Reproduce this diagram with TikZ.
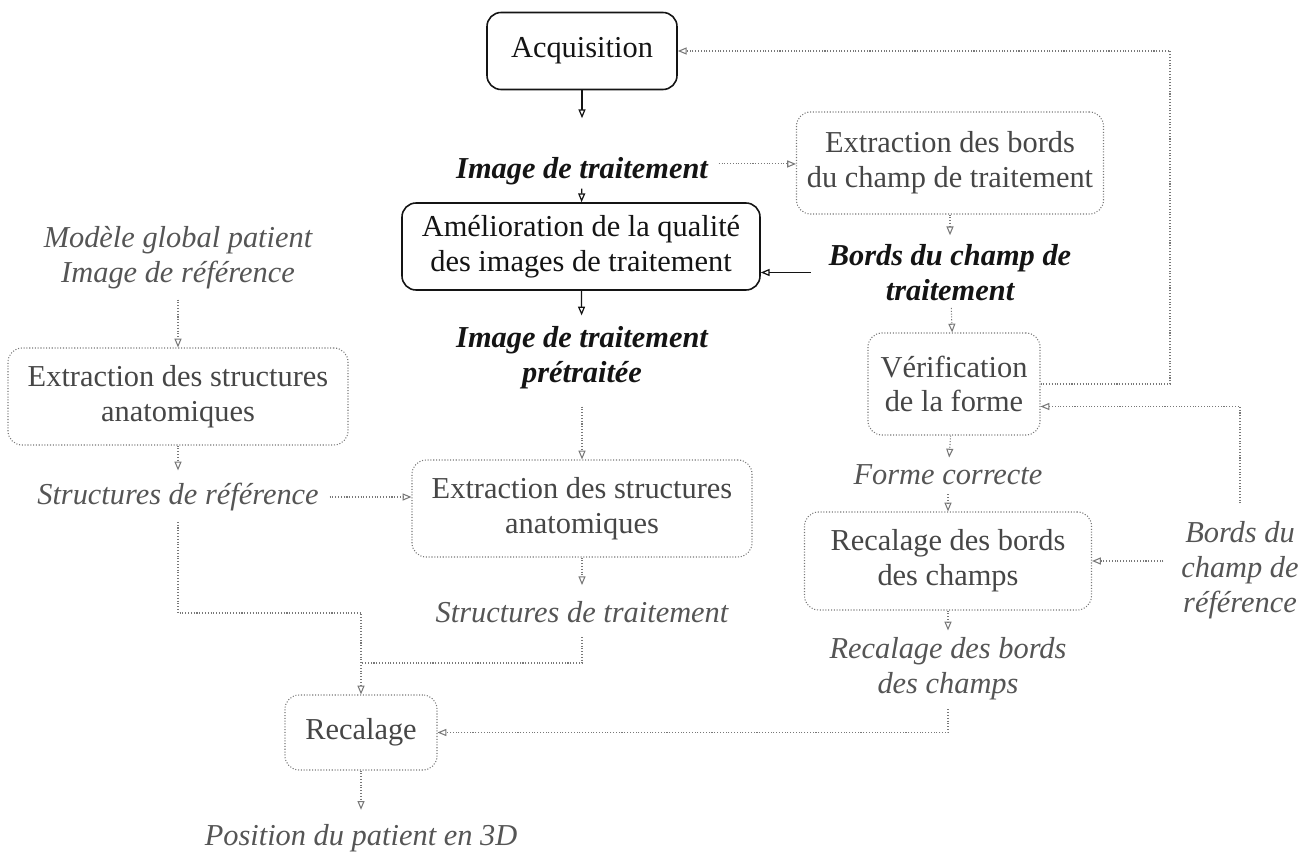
\documentclass[tikz,border=0pt]{standalone}
\usepackage{fontspec}
\setmainfont{Liberation Serif}
\usepackage{tikz}
\usetikzlibrary{arrows.meta, positioning, calc}
\definecolor{cInk}{RGB}{20,20,20}
\definecolor{cBoxText}{RGB}{70,70,70}
\definecolor{cLabel}{RGB}{85,85,85}
\definecolor{cLine}{RGB}{120,120,120}
\tikzset{
  %% process boxes
  pbox/.style={rectangle, rounded corners=8pt, align=center, inner sep=2pt,
               font=\fontsize{17.3}{19.8}\selectfont},
  pboxK/.style={pbox, draw=cInk, line width=0.9pt, text=cInk},             % main chain
  pboxG/.style={pbox, draw=cLine, densely dotted, line width=0.6pt,
                text=cBoxText},                                           % other steps
  %% data labels
  dlabel/.style={align=center, inner sep=2pt,
                 font=\fontsize{17.3}{19.8}\selectfont},
  dlabelK/.style={dlabel, text=cInk, font=\fontsize{17.3}{19.8}\selectfont\bfseries\itshape},
  dlabelG/.style={dlabel, text=cLabel, font=\fontsize{17.3}{19.8}\selectfont\itshape},
  %% connectors
  mainflow/.style={draw=cInk, line width=0.7pt,
                   -{Triangle[open, length=5pt, width=4pt]}},
  auxflow/.style={draw=cLine, densely dotted, line width=0.6pt,
                  -{Triangle[open, length=5pt, width=4pt]}},
  auxline/.style={draw=cLine, densely dotted, line width=0.6pt},
}

\begin{document}
\begin{tikzpicture}

\useasboundingbox (0,0) rectangle (26.18,-17.1);

%% =============================================================
%%  CENTRE COLUMN
%% =============================================================
\node[pboxK, minimum width=3.8cm, minimum height=1.54cm] (acq) at (11.64,-1.02) {Acquisition};
\node[dlabelK] (imgT) at (11.64,-3.42) {Image de traitement};
\node[pboxK, minimum width=7.16cm, minimum height=1.74cm] (amel) at (11.62,-4.93)
  {Amélioration de la qualité\\des images de traitement};
\node[dlabelK] (imgP) at (11.64,-7.15) {Image de traitement\\prétraitée};
\node[pboxG, minimum width=6.8cm, minimum height=1.94cm] (extC) at (11.64,-10.17)
  {Extraction des structures\\anatomiques};
\node[dlabelG] (strT) at (11.64,-12.24) {Structures de traitement};

%% =============================================================
%%  LEFT COLUMN
%% =============================================================
\node[dlabelG] (model) at (3.56,-5.15) {Modèle global patient\\Image de référence};
\node[pboxG, minimum width=6.8cm, minimum height=1.94cm] (extL) at (3.56,-7.93)
  {Extraction des structures\\anatomiques};
\node[dlabelG] (strR) at (3.56,-9.94) {Structures de référence};

\node[pboxG, minimum width=3.04cm, minimum height=1.5cm] (recal) at (7.22,-14.65) {Recalage};
\node[dlabelG] (pos) at (7.22,-16.76) {Position du patient en 3D};

%% =============================================================
%%  RIGHT COLUMN
%% =============================================================
\node[pboxG, minimum width=6.14cm, minimum height=2.04cm] (extB) at (19.0,-3.26)
  {Extraction des bords\\du champ de traitement};
\node[dlabelK] (bordsT) at (19.0,-5.45) {Bords du champ de\\traitement};
\node[pboxG, minimum width=3.44cm, minimum height=2.04cm] (verif) at (19.08,-7.68)
  {Vérification\\de la forme};
\node[dlabelG] (forme) at (18.96,-9.5) {Forme correcte};
\node[pboxG, minimum width=5.74cm, minimum height=1.96cm] (recB) at (18.96,-11.22)
  {Recalage des bords\\des champs};
\node[dlabelG] (recLbl) at (18.96,-13.38) {Recalage des bords\\des champs};
\node[dlabelG] (bordsR) at (24.8,-11.4) {Bords du\\champ de\\référence};

%% -- bend points --
\coordinate (fb) at (23.4,-1.02);    %% feedback to acquisition
\coordinate (jr) at (7.22,-12.26);   %% reference structures turn
\coordinate (jn) at (7.22,-13.26);   %% treatment structures join

%% -- main chain --
\draw[mainflow, shorten >=20pt] (acq) -- (imgT);
\draw[mainflow] (imgT) -- (amel);
\draw[mainflow, shorten >=4pt] (amel) -- (imgP);
\draw[mainflow, shorten <=8pt] (bordsT.west) -- (bordsT.west -| amel.east);

%% -- centre column --
\draw[auxflow, shorten <=8pt] (imgP) -- (extC);
\draw[auxflow, shorten >=7pt] (extC) -- (strT);
\draw[auxline, shorten <=6pt] (strT.south) |- (jn);

%% -- left column --
\draw[auxflow, shorten <=4pt] (model) -- (extL);
\draw[auxflow, shorten >=5pt] (extL) -- (strR);
\draw[auxflow, shorten <=4pt] (strR.east) -- (strR.east -| extC.west);
\draw[auxflow, shorten <=4pt] (strR.south) |- (jr) -- (recal);
\draw[auxflow, shorten >=6pt] (recal) -- (pos);

%% -- right column --
\draw[auxflow, shorten <=4pt] ([yshift=4pt]imgT.east) -- ([yshift=4pt]imgT.east -| extB.west);
\draw[auxflow, shorten >=3pt] (extB) -- (bordsT);
\draw[auxflow, shorten <=2pt] (bordsT) -- (verif);
\draw[auxflow, shorten >=2pt] (verif) -- (forme);
\draw[auxflow, shorten <=3pt] (forme) -- (recB);
\draw[auxflow, shorten >=2pt] (recB) -- (recLbl);
\draw[auxflow, shorten <=3pt] (recLbl.south) |- (recal.east);
\draw[auxflow, shorten <=8pt] (bordsR.west |- recB) -- (recB.east);

%% -- feedback loops --
\draw[auxflow] (verif.east) -| (fb) -- (acq.east);
\draw[auxflow, shorten <=8pt] (bordsR.north) |- ([yshift=-0.45cm]verif.east);

\end{tikzpicture}
\end{document}
